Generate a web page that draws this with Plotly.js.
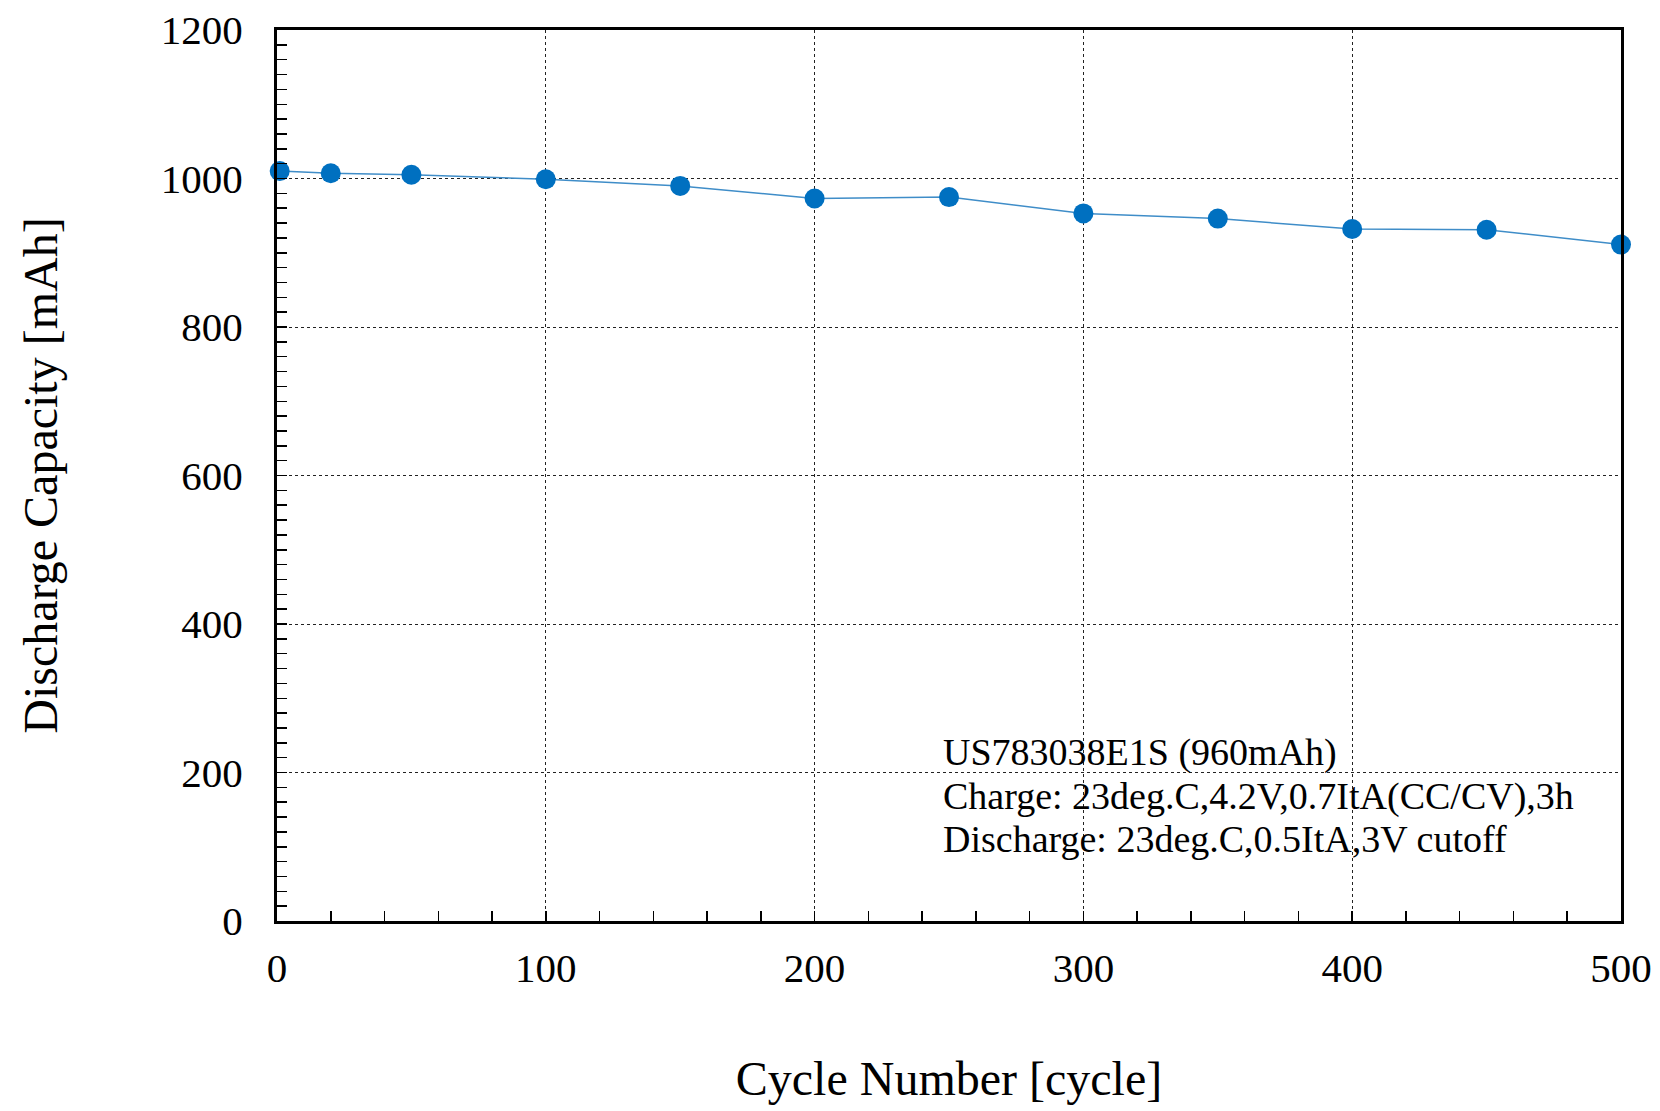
<!DOCTYPE html>
<html>
<head>
<meta charset="utf-8">
<script src="https://cdn.plot.ly/plotly-3.0.1.min.js"></script>
<style>html,body{margin:0;padding:0;background:#fff;}#chart{width:1660px;height:1111px;}</style>
</head>
<body>
<div id="chart"></div>
<script>
const cycles = [1, 20, 50, 100, 150, 200, 250, 300, 350, 400, 450, 500];
const capacity = [1010, 1007, 1005, 999, 990, 973, 975, 953, 946, 932, 931, 911];
const xTickVals = [0, 100, 200, 300, 400, 500];
const yTickVals = [0, 200, 400, 600, 800, 1000, 1200];
const noteLines = [
  "US783038E1S (960mAh)",
  "Charge: 23deg.C,4.2V,0.7ItA(CC/CV),3h",
  "Discharge: 23deg.C,0.5ItA,3V cutoff"
];
const noteY = [227, 168, 110];

const fontFam = "Liberation Serif, Times New Roman, serif";

const trace = {
  x: cycles,
  y: capacity,
  type: "scatter",
  mode: "lines+markers",
  line: {color: "#3f8dc8", width: 1.5},
  marker: {color: "#0070C0", size: 20},
  cliponaxis: false,
  showlegend: false
};

const axisCommon = {
  showline: true,
  mirror: true,
  linecolor: "#000",
  linewidth: 3,
  showgrid: true,
  gridcolor: "#222",
  gridwidth: 1,
  griddash: "dot",
  zeroline: false,
  ticks: "inside",
  ticklen: 10,
  tickwidth: 1.5,
  tickcolor: "#000",
  tickfont: {family: fontFam, size: 41, color: "#000"},
  minor: {dtick: 20, ticks: "inside", ticklen: 10, tickwidth: 1.5, tickcolor: "#000", showgrid: false}
};

const layout = {
  width: 1660,
  height: 1111,
  margin: {l: 277, r: 39, t: 30, b: 190},
  paper_bgcolor: "#fff",
  plot_bgcolor: "#fff",
  font: {family: fontFam, color: "#000"},
  xaxis: Object.assign({}, axisCommon, {
    range: [0, 500],
    tickvals: xTickVals,
    ticktext: xTickVals.map(String),
    ticklabelstandoff: 9,
    title: {text: "Cycle Number [cycle]", font: {family: fontFam, size: 48, color: "#000"}, standoff: 72}
  }),
  yaxis: Object.assign({}, axisCommon, {
    range: [0, 1200],
    tickvals: yTickVals,
    ticktext: yTickVals.map(String),
    ticklabelstandoff: 23,
    title: {text: "Discharge Capacity [mAh]", font: {family: fontFam, size: 48, color: "#000"}, standoff: 88}
  }),
  annotations: noteLines.map((t, i) => ({
    x: 247, y: noteY[i], xref: "x", yref: "y",
    xanchor: "left", yanchor: "middle",
    align: "left",
    showarrow: false,
    text: t,
    font: {family: fontFam, size: 38, color: "#000"}
  }))
};

Plotly.newPlot("chart", [trace], layout, {displayModeBar: false, staticPlot: true});
</script>
</body>
</html>
